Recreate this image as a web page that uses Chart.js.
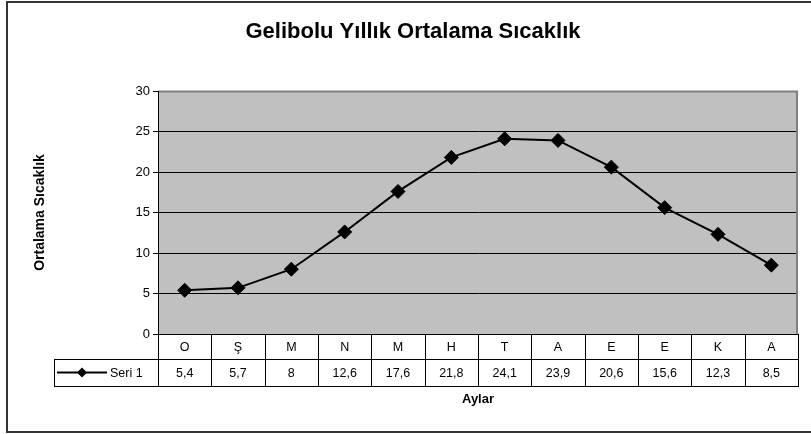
<!DOCTYPE html>
<html><head><meta charset="utf-8">
<script src="https://cdn.jsdelivr.net/npm/chart.js@4.4.0/dist/chart.umd.min.js"></script>
<style>html,body{margin:0;padding:0;background:#fff;overflow:hidden;} #wrap{width:811px;height:434px;position:relative;}</style>
</head><body><div id="wrap"><canvas id="c" width="811" height="434"></canvas></div>
<script>
const chartTitle = 'Gelibolu Yıllık Ortalama Sıcaklık';
const yTitle = 'Ortalama Sıcaklık';
const xTitle = 'Aylar';
const seriesName = 'Seri 1';
const categories = ['O', 'Ş', 'M', 'N', 'M', 'H', 'T', 'A', 'E', 'E', 'K', 'A'];
const values = [5.4, 5.7, 8, 12.6, 17.6, 21.8, 24.1, 23.9, 20.6, 15.6, 12.3, 8.5];
const yTicks = [0, 5, 10, 15, 20, 25, 30];

const FONT = "'Liberation Sans', Arial, sans-serif";
const fmt = v => String(v).replace('.', ',');

const decor = {
  id: 'decor',
  beforeDraw(chart) {
    const {ctx, chartArea: ca} = chart;
    ctx.save();
    ctx.fillStyle = '#fff';
    ctx.fillRect(0, 0, chart.width, chart.height);
    ctx.fillStyle = '#C0C0C0';
    ctx.fillRect(ca.left, ca.top, ca.right - ca.left, ca.bottom - ca.top);
    ctx.restore();
  },
  afterDraw(chart) {
    const {ctx, chartArea: ca} = chart;
    const xs = chart.scales.x;
    ctx.save();
    // plot border shadow (top & right)
    ctx.strokeStyle = '#808080';
    ctx.lineWidth = 2;
    ctx.beginPath();
    ctx.moveTo(ca.left, ca.top + 0.5);
    ctx.lineTo(ca.right, ca.top + 0.5);
    ctx.moveTo(ca.right - 1, ca.top);
    ctx.lineTo(ca.right - 1, ca.bottom);
    ctx.stroke();
    // axis line left
    ctx.strokeStyle = '#000';
    ctx.lineWidth = 1;
    ctx.beginPath();
    ctx.moveTo(ca.left + 0.5, ca.top);
    ctx.lineTo(ca.left + 0.5, ca.bottom);
    ctx.stroke();

    // data table
    const n = categories.length;
    const colW = (ca.right - ca.left) / n;
    const r0 = Math.round(ca.bottom), r1 = r0 + 25, r2 = r1 + 27;
    const legL = 54;
    ctx.strokeStyle = '#000';
    ctx.lineWidth = 1;
    ctx.beginPath();
    ctx.moveTo(ca.left, r0 + 0.5); ctx.lineTo(ca.right, r0 + 0.5);
    ctx.moveTo(legL, r1 + 0.5); ctx.lineTo(ca.right, r1 + 0.5);
    ctx.moveTo(legL, r2 + 0.5); ctx.lineTo(ca.right, r2 + 0.5);
    for (let i = 0; i <= n; i++) {
      const x = Math.round(ca.left + i * colW) + 0.5;
      ctx.moveTo(x, r0); ctx.lineTo(x, r2 + 1);
    }
    ctx.moveTo(legL + 0.5, r1); ctx.lineTo(legL + 0.5, r2 + 1);
    ctx.stroke();

    ctx.fillStyle = '#000';
    ctx.font = '12.5px ' + FONT;
    ctx.textAlign = 'center';
    ctx.textBaseline = 'middle';
    categories.forEach((c, i) => ctx.fillText(c, xs.getPixelForValue(i), (r0 + r1) / 2 + 1));
    values.forEach((v, i) => ctx.fillText(fmt(v), xs.getPixelForValue(i), (r1 + r2) / 2 + 1));

    // legend key
    const ky = (r1 + r2) / 2;
    ctx.lineWidth = 2;
    ctx.beginPath();
    ctx.moveTo(57, ky); ctx.lineTo(107, ky);
    ctx.stroke();
    ctx.beginPath();
    const kx = 82, kr = 5;
    ctx.moveTo(kx, ky - kr); ctx.lineTo(kx + kr, ky); ctx.lineTo(kx, ky + kr); ctx.lineTo(kx - kr, ky);
    ctx.closePath();
    ctx.fill();
    ctx.textAlign = 'left';
    ctx.fillText(seriesName, 110, ky + 1);

    // x axis title
    ctx.font = 'bold 13px ' + FONT;
    ctx.textAlign = 'center';
    ctx.fillText(xTitle, (ca.left + ca.right) / 2, 399);

    // chart title
    ctx.font = 'bold 22px ' + FONT;
    ctx.fillText(chartTitle, 413, 32);

    // outer frame
    ctx.strokeStyle = '#333';
    ctx.lineWidth = 2;
    ctx.strokeRect(7, 2, 830, 430);
    ctx.restore();
  }
};

new Chart(document.getElementById('c'), {
  type: 'line',
  data: {
    labels: categories,
    datasets: [{
      label: seriesName,
      data: values,
      borderColor: '#000',
      borderWidth: 2,
      tension: 0,
      pointStyle: 'rectRot',
      pointRadius: 7,
      pointBackgroundColor: '#000',
      pointBorderColor: '#000',
      pointBorderWidth: 1
    }]
  },
  options: {
    responsive: false,
    animation: false,
    devicePixelRatio: 1,
    layout: {padding: {left: 0, top: 91, right: 13, bottom: 100}},
    plugins: {legend: {display: false}, tooltip: {enabled: false}, title: {display: false}},
    scales: {
      x: {type: 'category', offset: true, display: false},
      y: {
        min: 0, max: 30,
        afterBuildTicks: s => { s.ticks = yTicks.map(v => ({value: v})); },
        afterFit: s => { s.width = 158; },
        ticks: {color: '#000', font: {family: FONT, size: 13}, padding: 3},
        grid: {
          color: c => (c.tick && c.tick.value === 30) ? 'rgba(0,0,0,0)' : '#000',
          lineWidth: 1, tickLength: 5, tickColor: '#000'
        },
        border: {display: true, color: '#000', width: 1},
        title: {display: true, text: yTitle, color: '#000', font: {family: FONT, size: 14, weight: 'bold'}, padding: {top: 32, bottom: 0}}
      }
    }
  },
  plugins: [decor]
});
</script>
</body></html>
